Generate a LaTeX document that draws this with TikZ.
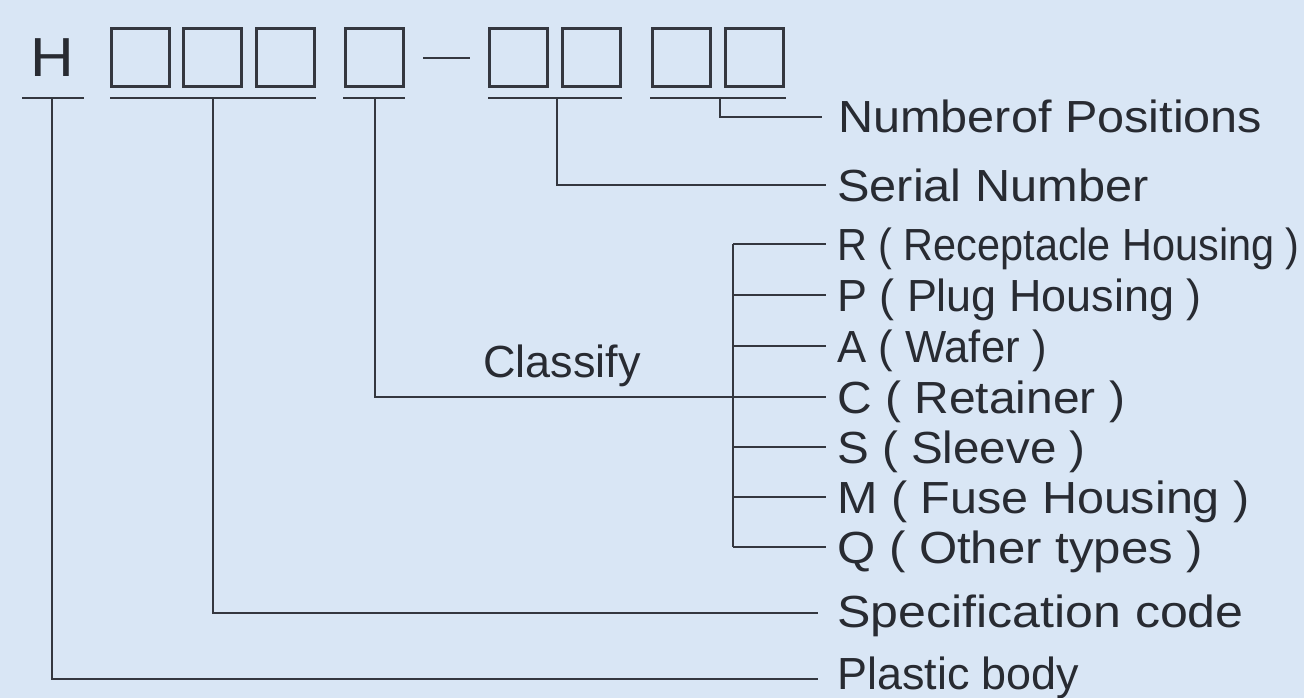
\documentclass[tikz,border=0pt]{standalone}
\usepackage{fontspec}
\setmainfont{Liberation Sans}
\begin{document}
\begin{tikzpicture}[x=1pt,y=-1pt,
  ln/.style={draw=lncol,line width=2.9pt},
  bx/.style={draw=lncol,line width=3pt,minimum size=58pt,inner sep=0pt},
  lbl/.style={anchor=west,inner sep=0pt,text=txcol,text height=32pt,text depth=0pt,font=\fontsize{45}{48}\selectfont},
  gap/.style={shorten >=16pt},
  gapc/.style={shorten >=11pt}]
\definecolor{bgcol}{RGB}{217,230,245}
\definecolor{lncol}{RGB}{52,55,63}
\definecolor{txcol}{RGB}{40,43,50}
\useasboundingbox (0,0) rectangle (1304,698);
\fill[bgcol] (0,0) rectangle (1304,698);
% code header
\node[text=txcol,font=\fontsize{55}{58}\selectfont,inner sep=0pt,text height=39pt,text depth=0pt] (H) at (52,57.5) {\scalebox{1.1}[1]{H}};
\node[bx] (b1) at (140,58) {};
\node[bx] (b2) at (212.5,58) {};
\node[bx] (b3) at (285.5,58) {};
\node[bx] (b4) at (374,58) {};
\node[bx] (b5) at (518.5,58) {};
\node[bx] (b6) at (591,58) {};
\node[bx] (b7) at (681,58) {};
\node[bx] (b8) at (754.5,58) {};
\coordinate (d1) at (423,58);
\coordinate (d2) at (470,58);
\draw[ln] (d1) -- (d2);
% underlines
\coordinate (uH1) at (22,98); \coordinate (uH2) at (84,98); \coordinate (uHm) at (52,98);
\coordinate (uS1) at (110,98); \coordinate (uS2) at (316,98); \coordinate (uSm) at (213,98);
\coordinate (uC1) at (343,98); \coordinate (uC2) at (405,98); \coordinate (uCm) at (375,98);
\coordinate (uN1) at (488,98); \coordinate (uN2) at (622,98); \coordinate (uNm) at (557,98);
\coordinate (uP1) at (650,98); \coordinate (uP2) at (786,98); \coordinate (uPm) at (720,98);
\draw[ln] (uH1) -- (uH2);
\draw[ln] (uS1) -- (uS2);
\draw[ln] (uC1) -- (uC2);
\draw[ln] (uN1) -- (uN2);
\draw[ln] (uP1) -- (uP2);
% labels
\node[lbl] (tNum) at (838,117) {\scalebox{1.08}[1]{Numberof Positions}};
\node[lbl] (tSer) at (837,185) {\scalebox{1.083}[1]{Serial Number}};
\node[lbl] (tR) at (837,244) {\scalebox{0.92}[1]{R ( Receptacle Housing )}};
\node[lbl] (tP) at (837,295) {\scalebox{0.998}[1]{P ( Plug Housing )}};
\node[lbl] (tA) at (837,346) {\scalebox{0.97}[1]{A ( Wafer )}};
\node[lbl] (tC) at (837,397) {\scalebox{1.066}[1]{C ( Retainer )}};
\node[lbl] (tS) at (837,447) {\scalebox{1.057}[1]{S ( Sleeve )}};
\node[lbl] (tM) at (837,497) {\scalebox{1.078}[1]{M ( Fuse Housing )}};
\node[lbl] (tQ) at (837,547) {\scalebox{1.092}[1]{Q ( Other types )}};
\node[lbl] (tSpec) at (837,611) {\scalebox{1.113}[1]{Specification code}};
\node[lbl] (tPl) at (837,673) {\scalebox{0.998}[1]{Plastic body}};
\node[lbl,anchor=center,font=\fontsize{45}{48}\selectfont] (tCl) at (562,361) {Classify};
\coordinate (ePl) at (818,679);
\coordinate (eSpec) at (818,613);
% connectors
\draw[ln,gap] (uPm) |- (tNum.west);
\draw[ln,gapc] (uNm) |- (tSer.west);
\draw[ln,gapc] (uCm) |- (tC.west);
\coordinate (brT) at (733,244);
\coordinate (brB) at (733,547);
\draw[ln] (brT) -- (brB);
\draw[ln,gapc] (brT) -- (tR.west);
\draw[ln,gapc] (733,295) -- (tP.west);
\draw[ln,gapc] (733,346) -- (tA.west);
\draw[ln,gapc] (733,447) -- (tS.west);
\draw[ln,gapc] (733,497) -- (tM.west);
\draw[ln,gapc] (brB) -- (tQ.west);
\draw[ln] (uSm) |- (eSpec);
\draw[ln] (uHm) |- (ePl);
\end{tikzpicture}
\end{document}
